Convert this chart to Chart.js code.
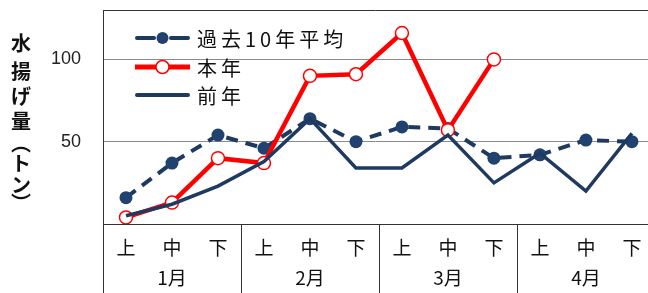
<!DOCTYPE html>
<html>
<head>
<meta charset="utf-8">
<script src="https://cdn.jsdelivr.net/npm/chart.js@4"></script>
<style>
html, body { margin: 0; padding: 0; background: #fff; overflow: hidden; }
</style>
</head>
<body>
<canvas id="line-chart" width="648" height="293"></canvas>
<script>
// 旬と月
const junLabels = ['上', '中', '下', '上', '中', '下', '上', '中', '下', '上', '中', '下'];
const months = ['1月', '2月', '3月', '4月'];
const yTicks = [50, 100];

// 水揚げ量（トン）
const heikin10 = [16, 37, 54, 46, 64, 50, 59, 58, 40, 42, 51, 50];
const honnen = [4, 13, 40, 37, 90, 91, 116, 57, 100, null, null, null];
const zennen = [5, 12, 23, 38, 64, 34, 34, 54, 25, 43, 20, 55];

const NAVY = '#1f3a60';
const DOT = '#21416e';
const RED = '#ff0000';
const FONT = '"Noto Sans CJK JP", "Noto Sans", sans-serif';

// 旬の番号を x にする（右端は画面の外まで続くので x の上限を少し切る）
const toXY = arr => arr.map((v, i) => ({ x: i, y: v }));
const X_MIN = -0.5;
const X_MAX = 11.35;

// 縦書きの軸タイトル、凡例、下の表
const frame = {
    id: 'frame',
    afterDraw(chart) {
        const ctx = chart.ctx;
        const a = chart.chartArea;
        const xs = chart.scales.x;
        const H = chart.height;
        ctx.save();

        // 枠
        ctx.strokeStyle = '#333';
        ctx.lineWidth = 1;
        ctx.beginPath();
        ctx.moveTo(a.left, a.top + 0.5);
        ctx.lineTo(a.right, a.top + 0.5);
        ctx.moveTo(a.left + 0.5, a.top);
        ctx.lineTo(a.left + 0.5, H);
        for (let m = 1; m < months.length; m++) {
            const x = Math.round(xs.getPixelForValue(m * 3 - 0.5)) + 0.5;
            ctx.moveTo(x, a.bottom);
            ctx.lineTo(x, H);
        }
        ctx.stroke();

        // 月
        ctx.fillStyle = '#111';
        ctx.font = '19px ' + FONT;
        ctx.textAlign = 'center';
        ctx.textBaseline = 'middle';
        months.forEach((m, i) => {
            ctx.fillText(m, xs.getPixelForValue(i * 3 + 1), 278);
        });

        // 軸タイトル（縦書き）
        const title = ['水', '揚', 'げ', '量', '︵', 'ト', 'ン', '︶'];
        const steps = [0, 28, 25, 25, 22, 20, 22, 18];
        ctx.font = 'bold 20px ' + FONT;
        let y = 43;
        title.forEach((c, i) => {
            y += steps[i];
            ctx.fillText(c, 21, y);
        });

        // 凡例
        const items = [
            { text: '過去10年平均', type: 'avg', y: 38 },
            { text: '本年', type: 'now', y: 67 },
            { text: '前年', type: 'prev', y: 95 }
        ];
        ctx.textAlign = 'left';
        ctx.font = '20px ' + FONT;
        items.forEach(it => {
            ctx.lineWidth = 4;
            if (it.type === 'avg') {
                ctx.strokeStyle = NAVY;
                ctx.lineCap = 'round';
                ctx.beginPath();
                ctx.moveTo(137, it.y); ctx.lineTo(154, it.y);
                ctx.moveTo(171, it.y); ctx.lineTo(188, it.y);
                ctx.stroke();
                ctx.fillStyle = DOT;
                ctx.beginPath();
                ctx.arc(162.5, it.y, 6, 0, Math.PI * 2);
                ctx.fill();
            } else if (it.type === 'now') {
                ctx.strokeStyle = RED;
                ctx.lineCap = 'butt';
                ctx.lineWidth = 5;
                ctx.beginPath();
                ctx.moveTo(135, it.y); ctx.lineTo(190, it.y);
                ctx.stroke();
                ctx.fillStyle = '#fff';
                ctx.lineWidth = 1.5;
                ctx.beginPath();
                ctx.arc(162.5, it.y, 6.5, 0, Math.PI * 2);
                ctx.fill();
                ctx.stroke();
            } else {
                ctx.strokeStyle = NAVY;
                ctx.lineCap = 'round';
                ctx.beginPath();
                ctx.moveTo(137, it.y); ctx.lineTo(188, it.y);
                ctx.stroke();
            }
            ctx.fillStyle = '#111';
            ctx.letterSpacing = '4px';
            ctx.fillText(it.text, 197, it.y + 1);
            ctx.letterSpacing = '0px';
        });
        ctx.restore();
    }
};

const config = {
    type: 'line',
    data: {
        datasets: [{
            label: '過去10年平均',
            data: toXY(heikin10),
            borderColor: NAVY,
            borderWidth: 4,
            borderDash: [12, 8],
            pointRadius: 6.5,
            pointBackgroundColor: DOT,
            pointBorderColor: DOT,
            pointBorderWidth: 0,
            order: 3
        }, {
            label: '本年',
            data: toXY(honnen),
            borderColor: RED,
            borderWidth: 4.5,
            pointRadius: 6.5,
            pointBackgroundColor: '#fff',
            pointBorderColor: RED,
            pointBorderWidth: 1.5,
            order: 2
        }, {
            label: '前年',
            data: toXY(zennen),
            borderColor: NAVY,
            borderWidth: 3.5,
            pointRadius: 0,
            order: 1
        }]
    },
    options: {
        responsive: false,
        animation: false,
        layout: { autoPadding: false, padding: { top: 10, right: 0, left: 0, bottom: 0 } },
        plugins: {
            legend: { display: false },
            tooltip: { enabled: false }
        },
        scales: {
            x: {
                type: 'linear',
                min: X_MIN,
                max: X_MAX,
                grid: { display: false },
                border: { display: true, color: '#333', width: 1 },
                ticks: {
                    color: '#111',
                    font: { size: 19, family: FONT },
                    padding: 4,
                    maxRotation: 0,
                    autoSkip: false,
                    callback: v => junLabels[v]
                },
                afterBuildTicks(scale) {
                    scale.ticks = junLabels.map((_, i) => ({ value: i }));
                },
                afterFit(scale) {
                    scale.height = 69;
                    scale.paddingLeft = 0;
                    scale.paddingRight = 0;
                }
            },
            y: {
                min: 0,
                max: 130,
                border: { display: false },
                grid: { color: '#8a8a8a', lineWidth: 1, drawTicks: false },
                ticks: {
                    color: '#222',
                    font: { size: 18, family: '"Liberation Sans", Arial, sans-serif' },
                    padding: 22
                },
                afterBuildTicks(scale) {
                    scale.ticks = yTicks.map(v => ({ value: v }));
                },
                afterFit(scale) {
                    scale.width = 103;
                    scale.paddingTop = 0;
                    scale.paddingBottom = 0;
                }
            }
        }
    },
    plugins: [frame]
};

window.onload = function () {
    const ctx = document.getElementById('line-chart').getContext('2d');
    new Chart(ctx, config);
};
</script>
</body>
</html>
